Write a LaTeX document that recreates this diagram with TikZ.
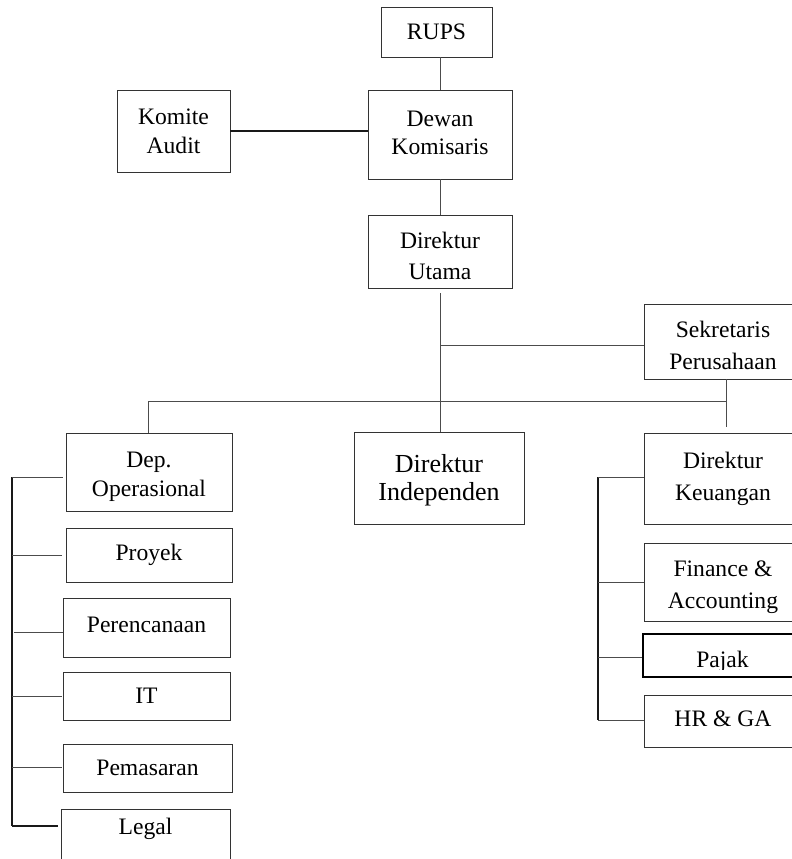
\documentclass[tikz,border=0pt]{standalone}
\usepackage{fontspec}
\setmainfont{Liberation Serif}
\usetikzlibrary{calc}
\begin{document}
\begin{tikzpicture}[x=1pt,y=-1pt,
  box/.style={draw=black!80, line width=0.9pt, rectangle, inner sep=0pt},
  txt/.style={font=\fontsize{23.6}{#1}\selectfont, align=center, inner sep=0pt, text=black},
  txt/.default=30,
  bigtxt/.style={font=\fontsize{26}{28}\selectfont, align=center, inner sep=0pt, text=black},
  link/.style={draw=black!70, line width=0.9pt},
  spine/.style={draw=black!90, line width=1.1pt},
  heavy/.style={draw=black!90, line width=1.9pt}]
\useasboundingbox (0,0) rectangle (792,859);
\fill[white] (0,0) rectangle (792,859);
\clip (0,0) rectangle (792,859);

% top of the chart
\node[box, minimum width=111pt, minimum height=50pt,
      label={[txt, name=rupsT]center:RUPS}] (rups) at (436.5,32) {};
\node[box, minimum width=113pt, minimum height=82pt,
      label={[txt=29, name=komiteT]center:{Komite\\Audit}}] (komite) at (173.5,131) {};
\node[box, minimum width=144pt, minimum height=89pt,
      label={[txt=28, name=dewanT, yshift=1.5pt]center:{Dewan\\Komisaris}}] (dewan) at (440,134.5) {};
\node[box, minimum width=144pt, minimum height=73pt,
      label={[txt=31, name=duT, yshift=-4.5pt]center:{Direktur\\Utama}}] (du) at (440,251.5) {};
\node[box, minimum width=158pt, minimum height=75pt,
      label={[txt=32, name=sekT, yshift=-4pt]center:{Sekretaris\\Perusahaan}}] (sek) at (723,341.5) {};

% directors
\node[box, minimum width=166pt, minimum height=78pt,
      label={[txt=29, name=depT, yshift=-5pt]center:{Dep.\\Operasional}}] (dep) at (149,472) {};
\node[box, minimum width=170pt, minimum height=92pt,
      label={[bigtxt, name=diT, yshift=-2pt]center:{Direktur\\Independen}}] (di) at (439,478) {};
\node[box, minimum width=158pt, minimum height=91pt,
      label={[txt=32, name=dkT]center:{Direktur\\Keuangan}}] (dk) at (723,478.5) {};

% operational units
\node[box, minimum width=166pt, minimum height=54pt,
      label={[txt, name=proyekT]center:Proyek}] (proyek) at (149,555) {};
\node[box, minimum width=167pt, minimum height=59pt,
      label={[txt, name=perenT, yshift=3pt]center:Perencanaan}] (peren) at (146.5,627.5) {};
\node[box, minimum width=167pt, minimum height=48pt,
      label={[txt, name=itT]center:IT}] (it) at (146.5,696) {};
\node[box, minimum width=169pt, minimum height=48pt,
      label={[txt, name=pemasT]center:Pemasaran}] (pemas) at (147.5,768) {};
\node[box, minimum width=169pt, minimum height=66pt,
      label={[txt, name=legalT, yshift=13pt]center:Legal}] (legal) at (145.5,842) {};

% finance units
\node[box, minimum width=158pt, minimum height=78pt,
      label={[txt=32, name=faT, yshift=-5.5pt]center:{Finance \&\\Accounting}}] (fa) at (723,582) {};
\node[box, draw=black, line width=1.8pt, minimum width=159pt, minimum height=43pt] (pajak) at (722.5,655.5) {};
\begin{scope}
  \clip (pajak.north west) rectangle (802,669);
  \node[txt] (pajakT) at (722.5,661.5) {Pajak};
\end{scope}
\node[box, minimum width=158pt, minimum height=52pt,
      label={[txt, name=hrT, yshift=2pt]center:{HR \& GA}}] (hr) at (723,721) {};

% junctions and spines
\coordinate (ju) at (440,345);
\coordinate (busL) at (148,401);
\coordinate (busR) at (726,401);
\coordinate (skD) at (726,427);
\coordinate (ls0) at (12,477);
\coordinate (ls1) at (12,555);
\coordinate (ls2) at (14,632);
\coordinate (ls3) at (12,696);
\coordinate (ls4) at (12,767);
\coordinate (ls5) at (12,826);
\coordinate (rs0) at (598,477);
\coordinate (rs1) at (598,582);
\coordinate (rs2) at (598,657);
\coordinate (rs3) at (598,720);

% connectors
\draw[link] (rups.south -| dewan.north) -- (dewan.north);
\draw[heavy] (komite.east) -- (komite.east -| dewan.west);
\draw[link] (dewan.south) -- (du.north);
\draw[link] ($(du.south)+(0,5)$) -- (di.north -| du.south);
\draw[link] (ju) -- (ju -| sek.west);
\draw[link] (busL) -- (busR);
\draw[link] (busL) -- (busL |- dep.north);
\draw[link] (busR |- sek.south) -- (skD);

% left branch
\draw[spine] (ls0) -- (ls5);
\draw[link] (ls0) -- ($(ls0 -| dep.west)+(-3,0)$);
\draw[link] (ls1) -- ($(ls1 -| proyek.west)+(-4,0)$);
\draw[link] (ls2) -- (ls2 -| peren.west);
\draw[link] (ls3) -- ($(ls3 -| it.west)+(-1,0)$);
\draw[link] (ls4) -- ($(ls4 -| pemas.west)+(-1,0)$);
\draw[heavy] (ls5) -- ($(ls5 -| legal.west)+(-3,0)$);

% right branch
\draw[spine] (rs0) -- (rs3);
\draw[link] (rs0) -- (rs0 -| dk.west);
\draw[link] (rs1) -- (rs1 -| fa.west);
\draw[link] (rs2) -- (rs2 -| pajak.west);
\draw[link] (rs3) -- (rs3 -| hr.west);
\end{tikzpicture}
\end{document}
